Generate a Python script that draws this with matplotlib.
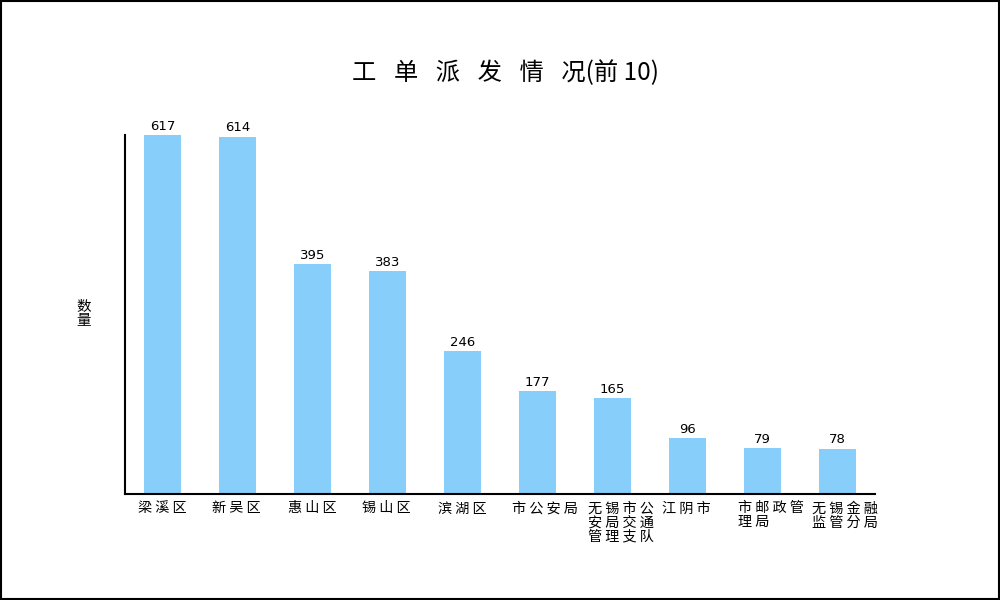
import matplotlib
matplotlib.use("Agg")
import matplotlib.pyplot as plt
from matplotlib.patches import Rectangle
from matplotlib.transforms import ScaledTranslation

plt.rcParams['font.family'] = ['Noto Sans CJK SC', 'DejaVu Sans']

# data
categories = ["梁溪区", "新吴区", "惠山区", "锡山区", "滨湖区", "市公安局",
              "无锡市公\n安局交通\n管理支队", "江阴市", "市邮政管\n理局", "无锡金融\n监管分局"]
counts = [617, 614, 395, 383, 246, 177, 165, 96, 79, 78]
title = "工单派发情况"
title_tail = "(前 10)"


def spaced(s, sep=" "):
    # the reference text is drawn wide, so pad between the glyphs
    return "\n".join(sep.join(line) for line in s.split("\n"))


fig = plt.figure(figsize=(10, 6), dpi=100)
ax = fig.add_axes([0.125, 0.1767, 0.75, 0.5983])

x = list(range(len(categories)))
ax.bar(x, counts, width=0.5, color="#87CEFA")

# value labels above bars
for xi, v in zip(x, counts):
    ax.text(xi, v + 4, str(v), ha="center", va="bottom", fontsize=9.5, family="DejaVu Sans")

ax.set_xlim(-0.5, len(categories) - 0.5)
ax.set_ylim(0, 617)
ax.set_xticks([])
ax.set_yticks([])

# category labels, left aligned a little left of each bar centre
shift = ax.get_xaxis_transform() + ScaledTranslation(-0.25, -0.075, fig.dpi_scale_trans)
for xi, name in zip(x, categories):
    ax.text(xi, 0, spaced(name), transform=shift, ha="left", va="top",
            multialignment="left", fontsize=10.2, linespacing=1.0, clip_on=False)

for s in ["top", "right"]:
    ax.spines[s].set_visible(False)
ax.spines["left"].set_linewidth(1.5)
ax.spines["bottom"].set_linewidth(1.5)

ax.set_ylabel("数\n量", rotation=0, fontsize=10.5, labelpad=30, va="center", linespacing=1.0)

fig.text(0.505, 0.878, spaced(title, "\u2002 ") + title_tail, ha="center", va="center", fontsize=17.5)

# frame around the whole image
fig.patches.append(Rectangle((0.001, 0.0015), 0.998, 0.997, transform=fig.transFigure,
                             fill=False, edgecolor="black", linewidth=1.5))

fig.savefig("out.png", dpi=100)
